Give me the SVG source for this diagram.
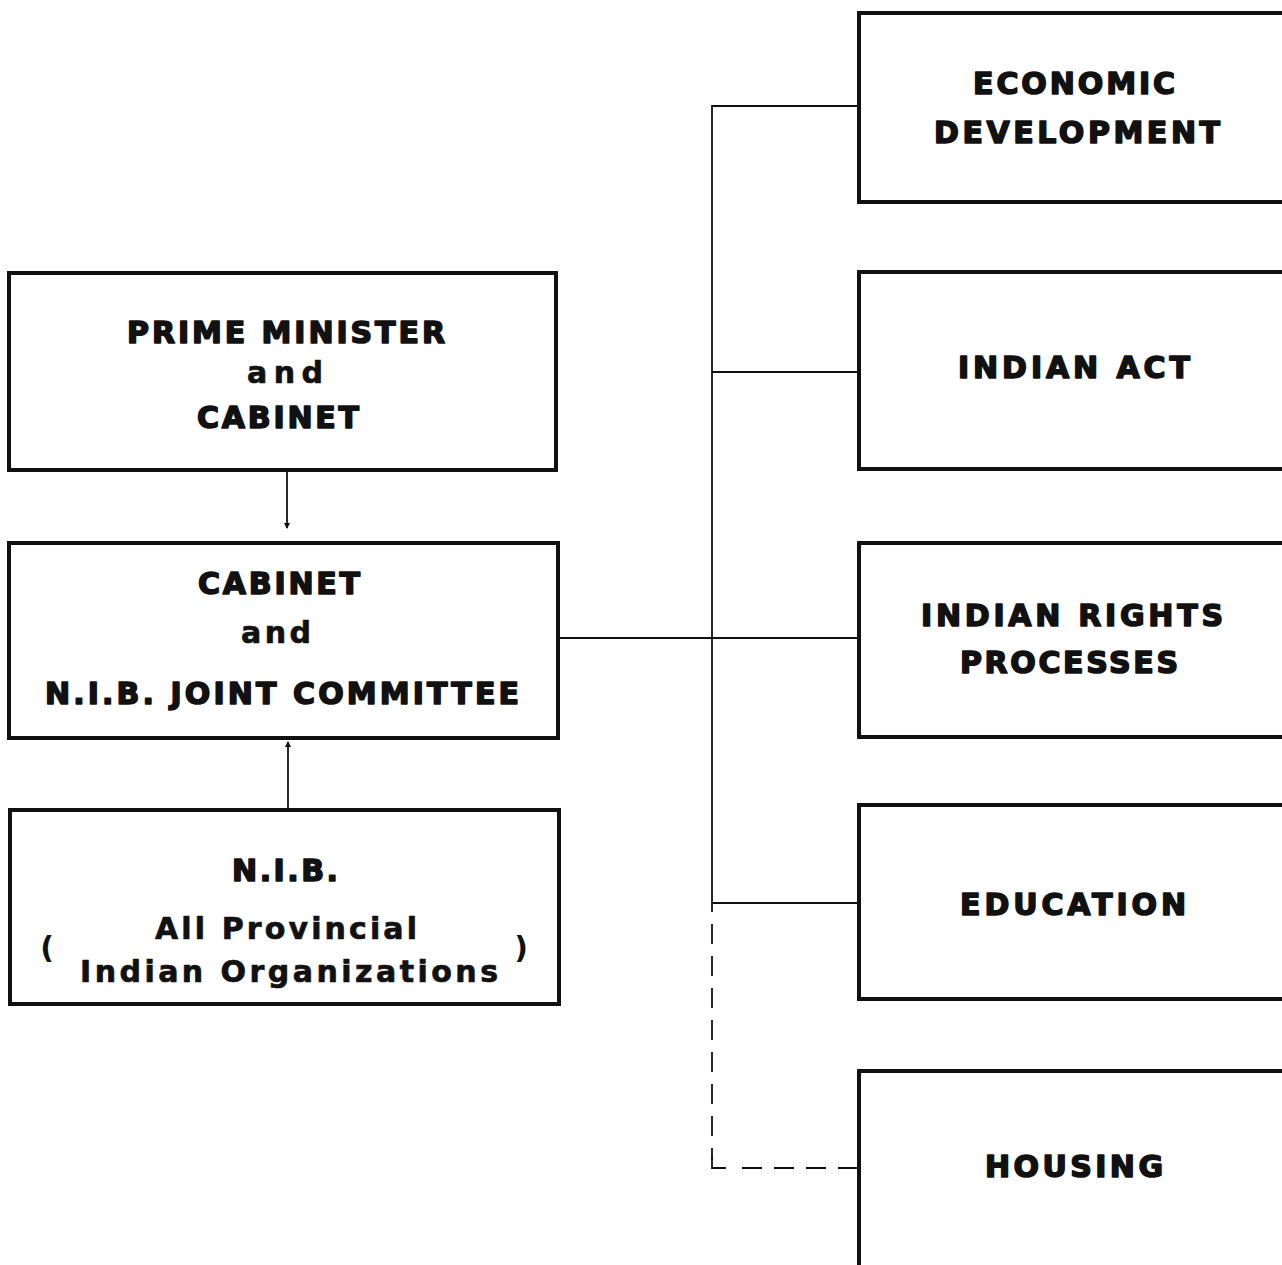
<svg xmlns="http://www.w3.org/2000/svg" width="1282" height="1265" viewBox="0 0 1282 1265">
<defs>
<style>
.box{fill:#fff;stroke:#111;stroke-width:4}
.t{font-family:"DejaVu Sans","Liberation Sans",sans-serif;font-weight:bold;font-size:30px;fill:#111;stroke:#111;stroke-width:1.6;stroke-linejoin:round;text-anchor:middle}
.l{stroke-width:0.7}
.p{font-family:"DejaVu Sans","Liberation Sans",sans-serif;font-weight:bold;font-size:30px;fill:#111;text-anchor:middle}
.c{fill:none;stroke:#111;stroke-width:1.8}
.d{fill:none;stroke:#111;stroke-width:1.8;stroke-dasharray:20 12}
</style>
<marker id="ah" viewBox="0 0 6 8" refX="5" refY="4" markerWidth="6" markerHeight="8" orient="auto" markerUnits="userSpaceOnUse">
<path d="M0,1 L6,4 L0,7 Z" fill="#111"/>
</marker>
</defs>
<rect width="1282" height="1265" fill="#fff"/>
<g id="connectors">
<line class="c" x1="287" y1="471" x2="287" y2="528" marker-end="url(#ah)"/>
<line class="c" x1="288" y1="808" x2="288" y2="742" marker-end="url(#ah)"/>
<polyline class="c" points="858,106 712,106 712,912"/>
<line class="c" x1="712" y1="372" x2="858" y2="372"/>
<line class="c" x1="559" y1="638" x2="858" y2="638"/>
<line class="c" x1="712" y1="903" x2="858" y2="903"/>
<line class="d" x1="712" y1="924" x2="712" y2="1160"/>
<polyline class="c" points="712,1156 712,1168 726,1168"/>
<line class="d" x1="858" y1="1168" x2="730" y2="1168"/>
</g>
<g id="pm">
<rect class="box" x="9" y="273" width="547" height="197"/>
<text class="t" x="286" y="343" textLength="318" lengthAdjust="spacing">PRIME MINISTER</text>
<text class="t l" x="285" y="383" textLength="76" lengthAdjust="spacing">and</text>
<text class="t" x="278" y="428" textLength="162" lengthAdjust="spacing">CABINET</text>
</g>
<g id="joint">
<rect class="box" x="9" y="543" width="549" height="195"/>
<text class="t" x="279" y="594" textLength="162" lengthAdjust="spacing">CABINET</text>
<text class="t l" x="276" y="643" textLength="70" lengthAdjust="spacing">and</text>
<text class="t" x="282" y="704" textLength="474" lengthAdjust="spacing">N.I.B. JOINT COMMITTEE</text>
</g>
<g id="nib">
<rect class="box" x="10" y="810" width="549" height="194"/>
<text class="t" x="285" y="881" textLength="106" lengthAdjust="spacing">N.I.B.</text>
<text class="t l" x="286" y="939" textLength="262" lengthAdjust="spacing">All Provincial</text>
<text class="t l" x="289" y="982" textLength="418" lengthAdjust="spacing">Indian Organizations</text>
<text class="p" x="47" y="958">(</text>
<text class="p" x="521" y="958">)</text>
</g>
<g id="econ">
<rect class="box" x="859" y="13" width="430" height="189"/>
<text class="t" x="1074" y="94" textLength="202" lengthAdjust="spacing">ECONOMIC</text>
<text class="t" x="1077" y="143" textLength="286" lengthAdjust="spacing">DEVELOPMENT</text>
</g>
<g id="indianact">
<rect class="box" x="859" y="272" width="430" height="197"/>
<text class="t" x="1074" y="378" textLength="232" lengthAdjust="spacing">INDIAN ACT</text>
</g>
<g id="rights">
<rect class="box" x="859" y="543" width="430" height="194"/>
<text class="t" x="1072" y="626" textLength="302" lengthAdjust="spacing">INDIAN RIGHTS</text>
<text class="t" x="1069" y="673" textLength="218" lengthAdjust="spacing">PROCESSES</text>
</g>
<g id="education">
<rect class="box" x="859" y="805" width="430" height="194"/>
<text class="t" x="1073" y="915" textLength="226" lengthAdjust="spacing">EDUCATION</text>
</g>
<g id="housing">
<rect class="box" x="859" y="1071" width="430" height="200"/>
<text class="t" x="1074" y="1177" textLength="178" lengthAdjust="spacing">HOUSING</text>
</g>
</svg>
